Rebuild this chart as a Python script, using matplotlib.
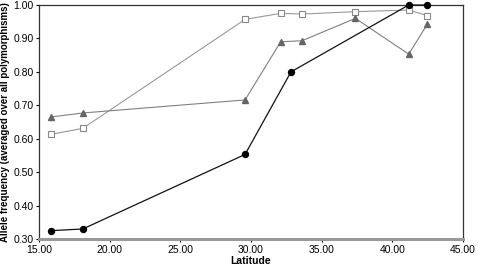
import matplotlib
matplotlib.use("Agg")
import matplotlib.pyplot as plt

plt.rcParams['font.family'] = ['Liberation Sans', 'DejaVu Sans']

lat_circle = [15.85, 18.1, 29.58, 32.83, 41.16, 42.48]
freq_circle = [0.325, 0.330, 0.553, 0.800, 1.000, 1.000]

lat_tri = [15.85, 18.1, 29.58, 32.1, 33.6, 37.39, 41.16, 42.48]
freq_tri = [0.665, 0.677, 0.716, 0.890, 0.893, 0.960, 0.853, 0.943]

lat_sq = [15.85, 18.1, 29.58, 32.1, 33.6, 37.39, 41.16, 42.48]
freq_sq = [0.613, 0.631, 0.957, 0.975, 0.973, 0.980, 0.985, 0.968]

xticks = [15, 20, 25, 30, 35, 40, 45]
yticks = [0.3, 0.4, 0.5, 0.6, 0.7, 0.8, 0.9, 1.0]

fig = plt.figure(figsize=(4.78, 2.66), dpi=100)
ax = fig.add_axes([39/478, 1-239/266, (463-39)/478, (239-5)/266])

ax.plot(lat_sq, freq_sq, color='#999999', lw=0.8, marker='s', ms=4,
        mfc='white', mec='#888888', mew=0.8, clip_on=False, zorder=3)
ax.plot(lat_tri, freq_tri, color='#808080', lw=0.8, marker='^', ms=4.5,
        mfc='#666666', mec='#666666', clip_on=False, zorder=4)
ax.plot(lat_circle, freq_circle, color='#111111', lw=0.9, marker='o', ms=4.3,
        mfc='black', mec='black', clip_on=False, zorder=5)

ax.set_xlim(15, 45)
ax.set_ylim(0.3, 1.0)
ax.set_xticks(xticks)
ax.set_xticklabels([f"{v:.2f}" for v in xticks])
ax.set_yticks(yticks)
ax.set_yticklabels([f"{v:.2f}" for v in yticks])
ax.tick_params(labelsize=7.5, length=2.5, width=0.8, pad=1.5, direction='out')

for s in ['left', 'top', 'right']:
    ax.spines[s].set_color('#333333')
    ax.spines[s].set_linewidth(0.9)
ax.spines['bottom'].set_color('#999999')
ax.spines['bottom'].set_linewidth(2.2)

ax.set_xlabel('Latitude', fontsize=7.5, fontweight='bold', labelpad=1)
ax.set_ylabel('Allele frequency (averaged over all polymorphisms)', fontsize=7,
              fontweight='bold', labelpad=2)

fig.savefig('out.png', dpi=100)
